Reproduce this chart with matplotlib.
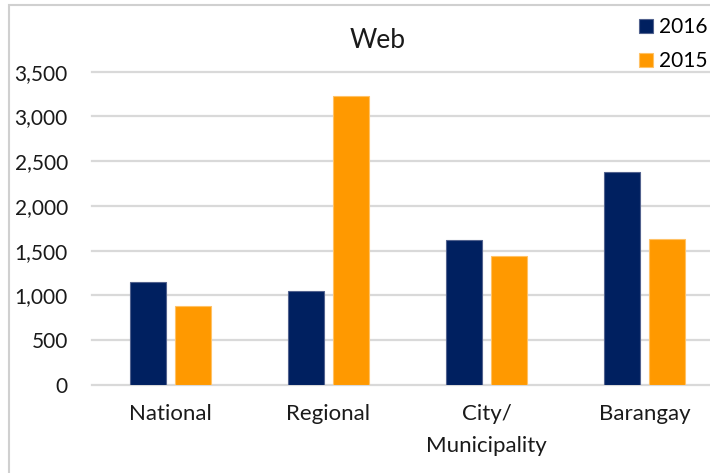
import matplotlib
matplotlib.use("Agg")
import matplotlib.pyplot as plt
from matplotlib.patches import Rectangle
import numpy as np

categories = ["National", "Regional", "City/\nMunicipality", "Barangay"]
series_names = ["2016", "2015"]
values_2016 = [1150, 1050, 1625, 2375]
values_2015 = [880, 3230, 1445, 1635]
yticks = [0, 500, 1000, 1500, 2000, 2500, 3000, 3500]
ytick_labels = ["0", "500", "1,000", "1,500", "2,000", "2,500", "3,000", "3,500"]
title = "Web"

plt.rcParams['font.family'] = ['Lato', 'DejaVu Sans']

W, H = 710, 473
fig = plt.figure(figsize=(W / 100, H / 100), dpi=100)

# chart area border (left + top visible, rest cropped)
fig.patches.append(Rectangle((9 / W, -0.1), 2.0, (1 - 5 / H) + 0.1,
                             transform=fig.transFigure, fill=False,
                             edgecolor="#D0D0D0", linewidth=1.5))

left, right = 91.5 / W, 723.5 / W
bottom, top = 1 - 385 / H, 1 - 71.7 / H
ax = fig.add_axes([left, bottom, right - left, top - bottom])

x = np.arange(len(categories))
bw = 0.225
off = 0.1425
c2016, c2015 = "#002060", "#FF9900"
ax.bar(x - off, values_2016, bw, color=c2016, edgecolor="#52628E", linewidth=0.8, zorder=3, label=series_names[0])
ax.bar(x + off, values_2015, bw, color=c2015, edgecolor="#FFC266", linewidth=0.8, zorder=3, label=series_names[1])

ax.set_xlim(-0.5, len(categories) - 0.5)
ax.set_ylim(0, 3500)
ax.set_yticks(yticks)
ax.set_yticklabels(ytick_labels, fontsize=15, color="#1a1a1a")
ax.set_xticks(x)
ax.set_xticklabels(categories, fontsize=16, color="#1a1a1a", linespacing=1.7)
ax.tick_params(axis='y', length=0, pad=17)
ax.tick_params(axis='x', length=0, pad=14)
for s in ax.spines.values():
    s.set_visible(False)
ax.yaxis.grid(True, color="#D9D9D9", linewidth=1.6, zorder=0)
ax.set_axisbelow(True)
for ln in ax.get_ygridlines():
    ln.set_clip_on(False)

fig.text(378 / W, 1 - 40 / H, title, fontsize=19, ha="center", va="center", color="#1a1a1a")

fig.legend(loc="upper left", bbox_to_anchor=(639 / W, 1 - 17 / H), frameon=False,
           fontsize=15, handlelength=0.65, handleheight=0.65, handletextpad=0.3,
           labelspacing=0.68, borderpad=0, borderaxespad=0)

fig.savefig("out.png", dpi=100)
